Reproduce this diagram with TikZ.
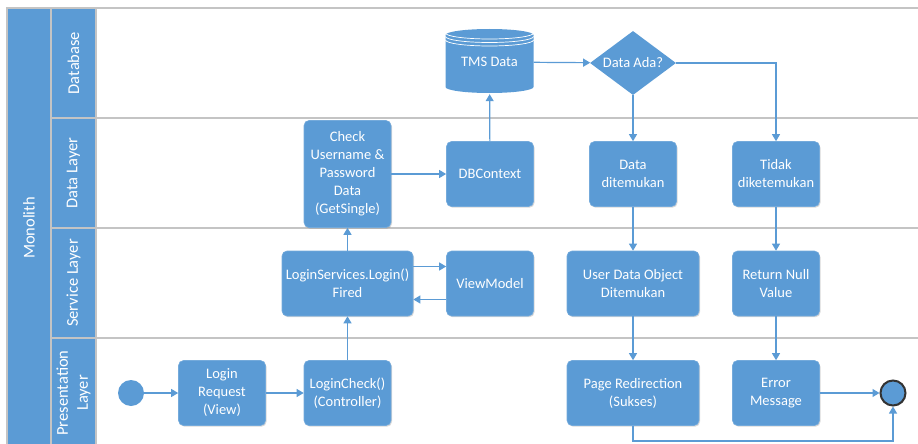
\documentclass[tikz,border=0pt]{standalone}
\usepackage{fontspec}
\setmainfont{Carlito}
\usetikzlibrary{arrows.meta,shapes.geometric,shadows}

\definecolor{flowblue}{HTML}{5B9BD5}
\definecolor{lanegray}{HTML}{C4C4C4}

\begin{document}
\begin{tikzpicture}[x=1pt, y=-1pt,
  >={Triangle[length=7pt, width=8pt]},
  box/.style={draw=flowblue!85!white, line width=0.6pt, fill=flowblue, rounded corners=5pt,
    text=white, align=center, minimum width=87pt, minimum height=65pt, inner sep=2pt,
    font=\fontsize{14.5pt}{18pt}\selectfont,
    drop shadow={shadow xshift=1pt, shadow yshift=-1.2pt, opacity=0.25, fill=black!60}},
  widebox/.style={box, minimum width=132pt},
  decision/.style={diamond, aspect=1.34, fill=flowblue, text=white, inner sep=0pt,
    minimum width=86pt, minimum height=64pt, font=\fontsize{14.5pt}{18pt}\selectfont},
  store/.style={rectangle, minimum width=88pt, minimum height=64pt, text=white,
    font=\fontsize{14.5pt}{18pt}\selectfont},
  lanetext/.style={text=white, rotate=90, align=center,
    font=\fontsize{16.5pt}{20pt}\selectfont},
  lane/.style={draw=lanegray, line width=1.2pt},
  flow/.style={draw=flowblue, line width=1.2pt, ->}
]

\useasboundingbox (0,0) rectangle (918,444);

\fill [flowblue] (7,8) rectangle (96,444);
\draw [lane] (7,444) -- (7,8) -- (918,8);
\draw [lane] (51,8) -- (51,444);
\draw [lane] (96,8) -- (96,444);
\foreach \y in {118,228,338}
  \draw [lane] (51,\y) -- (918,\y);

\node (monolith) [lanetext] at (29, 228) {Monolith};
\node (database) [lanetext] at (73.5, 63) {Database};
\node (datalayer) [lanetext] at (73.5, 173) {Data Layer};
\node (servicelayer) [lanetext] at (73.5, 283) {Service Layer};
\node (presentation) [lanetext] at (73.5, 393) {Presentation \\ Layer};

\fill [flowblue] (445.5,35) -- (445.5,87)
  arc [start angle=180, end angle=0, x radius=44, y radius=6] -- (533.5,35)
  arc [start angle=0, end angle=-180, x radius=44, y radius=6] -- cycle;
\foreach \y in {33,36.5,40}
  \draw [white, line width=0.7pt] (445.5,\y) arc [start angle=180, end angle=0, x radius=44, y radius=6];

\node (tmsdata) [store] at (489.5, 62) {TMS Data};
\node (dataada) [decision] at (633, 63) {Data Ada?};

\node (checkuser) [box, minimum height=107pt] at (347.5, 174) {Check \\ Username \& \\ Password \\ Data \\ (GetSingle)};
\node (dbcontext) [box] at (490, 174) {DBContext};
\node (found) [box] at (633, 174) {Data \\ ditemukan};
\node (notfound) [box] at (776, 174) {Tidak \\ diketemukan};

\node (loginsvc) [box, minimum width=131pt] at (347.5, 283.5) {LoginServices.Login() \\ Fired};
\node (viewmodel) [box] at (490, 283.5) {ViewModel};
\node (userdata) [widebox] at (633, 283.5) {User Data Object \\ Ditemukan};
\node (returnnull) [box] at (776, 283.5) {Return Null \\ Value};

\node (start) [circle, fill=flowblue, minimum size=26pt, inner sep=0pt] at (131, 393) {};
\node (loginreq) [box] at (222, 393) {Login \\ Request \\ (View)};
\node (logincheck) [box] at (347.5, 393) {LoginCheck() \\ (Controller)};
\node (redirect) [widebox] at (633, 393) {Page Redirection \\ (Sukses)};
\node (errormsg) [box] at (776, 393) {Error \\ Message};
\node (finish) [circle, fill=flowblue, draw=black!80, line width=2pt, minimum size=25pt, inner sep=0pt,
  drop shadow={shadow xshift=0.8pt, shadow yshift=-1pt, opacity=0.25, fill=black!60}] at (893, 393) {};

\draw [flow] (start) -- (loginreq);
\draw [flow] (loginreq) -- (logincheck);
\draw [flow] (logincheck) -- (loginsvc);
\draw [flow] (loginsvc) -- (checkuser);
\draw [flow] ([yshift=17pt]loginsvc.east) -- ([yshift=17pt]viewmodel.west);
\draw [flow] ([yshift=-16pt]viewmodel.west) -- ([yshift=-16pt]loginsvc.east);
\draw [flow] (checkuser) -- (dbcontext);
\draw [flow] (dbcontext) -- (tmsdata);
\draw [flow] (tmsdata) -- (dataada);
\draw [flow] (dataada) -- (found);
\draw [flow] (dataada) -| (notfound);
\draw [flow] (found) -- (userdata);
\draw [flow] (notfound) -- (returnnull);
\draw [flow] (userdata) -- (redirect);
\draw [flow] (returnnull) -- (errormsg);
\draw [flow] (errormsg) -- (finish);
\draw [flow] (redirect) -- ++(0, 48) -| (finish);

\end{tikzpicture}
\end{document}
